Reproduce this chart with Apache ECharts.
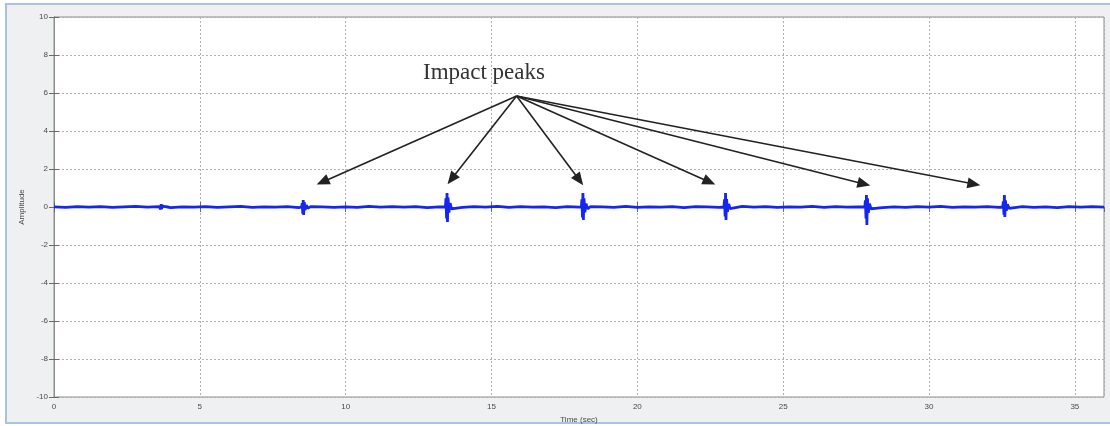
<!DOCTYPE html>
<html>
<head>
<meta charset="utf-8">
<title>Impact peaks</title>
<script src="https://cdn.jsdelivr.net/npm/echarts@6/dist/echarts.min.js"></script>
<style>
  html, body { margin: 0; padding: 0; background: #ffffff; }
  #chart { width: 1110px; height: 426px; }
</style>
</head>
<body>
<div id="chart"></div>
<script>
// Axis ranges and ticks
const timeRange = [0, 36];
const timeStep = 5;
const ampRange = [-10, 10];
const ampStep = 2;

// Background vibration recorded every SAMPLE_STEP seconds
const SAMPLE_STEP = 0.4;
const baseNoise = [
  0.01, -0.02, 0.02, -0.01, 0.02, -0.02, 0.01, 0.03, -0.01, 0.02,
  -0.03, 0.01, -0.01, 0.02, -0.02, 0.01, 0.03, -0.02, 0.01, -0.01,
  0.02, -0.03, 0.02, 0.01, -0.02, 0.01, -0.02, 0.03, -0.01, 0.02,
  -0.01, 0.02, -0.03, 0.01, 0.01, -0.02, 0.02, -0.01, 0.03, -0.02,
  0.02, -0.01, 0.01, -0.03, 0.02, -0.01, 0.02, 0.01, -0.02, 0.03,
  -0.02, 0.01, -0.01, 0.02, -0.03, 0.02, 0.01, -0.02, 0.01, 0.03,
  -0.01, 0.02, -0.02, 0.01, -0.01, 0.03, -0.02, 0.02, -0.01, 0.01,
  0.02, -0.03, 0.01, -0.02, 0.02, -0.01, 0.03, -0.02, 0.01, -0.01,
  0.02, -0.02, 0.01, 0.02, -0.02, 0.01, -0.03, 0.02, -0.01, 0.02,
  -0.01
];

// Impact bursts: onset times (sec) and the samples around each one
const peakTimes = [3.66, 8.53, 13.46, 18.12, 23.01, 27.84, 32.57];
const burstOffsets = [-0.04, -0.02, 0, 0.015, 0.03, 0.05, 0.08, 0.12, 0.17, 0.23];
const burstValues = [
  [0, 0.08, -0.12, 0.15, -0.10, 0.06, -0.04, 0.03, -0.02, 0],
  [0, 0.20, -0.35, 0.37, -0.42, 0.25, -0.15, 0.10, -0.06, 0],
  [0, 0.45, -0.60, 0.74, -0.79, 0.50, -0.30, 0.20, -0.10, 0],
  [0, 0.40, -0.55, 0.74, -0.68, 0.45, -0.28, 0.18, -0.09, 0],
  [0, 0.40, -0.50, 0.74, -0.68, 0.42, -0.25, 0.16, -0.08, 0],
  [0, 0.35, -0.60, 0.63, -0.95, 0.45, -0.30, 0.18, -0.10, 0],
  [0, 0.30, -0.40, 0.63, -0.53, 0.35, -0.20, 0.14, -0.07, 0]
];

// Annotation arrows: common start and arrow-head positions (time, amplitude)
const arrowFrom = [15.86, 5.84];
const arrowHeadTime = [9.21, 13.63, 18.01, 22.47, 27.77, 31.54];
const arrowHeadAmp = [1.32, 1.47, 1.42, 1.32, 1.21, 1.21];
const annotationText = 'Impact peaks';

// Assemble the signal as (time, amplitude) pairs
const signal = [];
baseNoise.forEach((v, i) => {
  const t = +(i * SAMPLE_STEP).toFixed(2);
  const nearBurst = peakTimes.some(p => t > p - 0.06 && t < p + 0.26);
  if (!nearBurst) signal.push([t, v]);
});
peakTimes.forEach((p, k) => {
  burstOffsets.forEach((o, j) => {
    signal.push([+(p + o).toFixed(3), burstValues[k][j]]);
  });
});
signal.sort((a, b) => a[0] - b[0]);

const arrowLines = arrowHeadTime.map((t, i) => [
  { coord: arrowFrom, symbol: 'none' },
  { coord: [t, arrowHeadAmp[i]], symbol: 'triangle' }
]);

const tickFont = { fontFamily: 'Liberation Sans', fontSize: 8, color: '#4a4a4a' };
const gridDash = { color: '#b0b0b0', width: 1, type: [2, 2] };
const frameLine = { show: true, lineStyle: { color: '#8c8c8c', width: 1 } };
const innerTick = { show: true, inside: true, length: 5, lineStyle: { color: '#6a6a6a' } };

const chart = echarts.init(document.getElementById('chart'), null, { renderer: 'canvas' });
chart.setOption({
  animation: false,
  backgroundColor: '#ffffff',
  graphic: [
    {
      type: 'rect', z: -10, silent: true,
      shape: { x: 6, y: 4, width: 1110, height: 419 },
      style: { fill: '#eff0f1', stroke: '#a9c2e2', lineWidth: 2 }
    },
    {
      type: 'text', left: 423, top: 61, z: 20, silent: true,
      style: { text: annotationText, font: '23px "Liberation Serif"', fill: '#333333' }
    }
  ],
  grid: {
    left: 54, right: 6, top: 17, bottom: 29,
    outerBoundsMode: 'none', containLabel: false,
    show: true, backgroundColor: '#ffffff', borderColor: '#8c8c8c', borderWidth: 1
  },
  xAxis: [
    {
      type: 'value', position: 'bottom',
      min: timeRange[0], max: timeRange[1], interval: timeStep,
      name: 'Time (sec)', nameLocation: 'middle', nameGap: 18,
      nameTextStyle: { fontFamily: 'Liberation Sans', fontSize: 8, color: '#4a4a4a' },
      axisLine: frameLine,
      axisTick: innerTick,
      axisLabel: Object.assign({ margin: 6, showMaxLabel: false }, tickFont),
      splitLine: { show: true, lineStyle: gridDash }
    },
    {
      type: 'value', position: 'top',
      min: timeRange[0], max: timeRange[1], interval: timeStep,
      axisLine: frameLine,
      axisTick: innerTick,
      axisLabel: { show: false },
      splitLine: { show: false }
    }
  ],
  yAxis: [
    {
      type: 'value', position: 'left',
      min: ampRange[0], max: ampRange[1], interval: ampStep,
      name: 'Amplitude', nameLocation: 'middle', nameGap: 28, nameRotate: 90,
      nameTextStyle: { fontFamily: 'Liberation Sans', fontSize: 8, color: '#4a4a4a' },
      axisLine: frameLine,
      axisTick: innerTick,
      axisLabel: Object.assign({ margin: 6 }, tickFont),
      splitLine: { show: true, lineStyle: gridDash }
    },
    {
      type: 'value', position: 'right',
      min: ampRange[0], max: ampRange[1], interval: ampStep,
      axisLine: frameLine,
      axisTick: innerTick,
      axisLabel: { show: false },
      splitLine: { show: false }
    }
  ],
  series: [
    {
      type: 'line',
      xAxisIndex: 0, yAxisIndex: 0,
      data: signal,
      showSymbol: false,
      symbol: 'none',
      lineStyle: { color: '#1426f0', width: 2.8 },
      z: 5,
      markLine: {
        silent: true,
        animation: false,
        symbolSize: [11, 13],
        label: { show: false },
        lineStyle: { color: '#222222', width: 1.6, type: 'solid' },
        emphasis: { disabled: true },
        data: arrowLines
      }
    }
  ]
});
</script>
</body>
</html>
